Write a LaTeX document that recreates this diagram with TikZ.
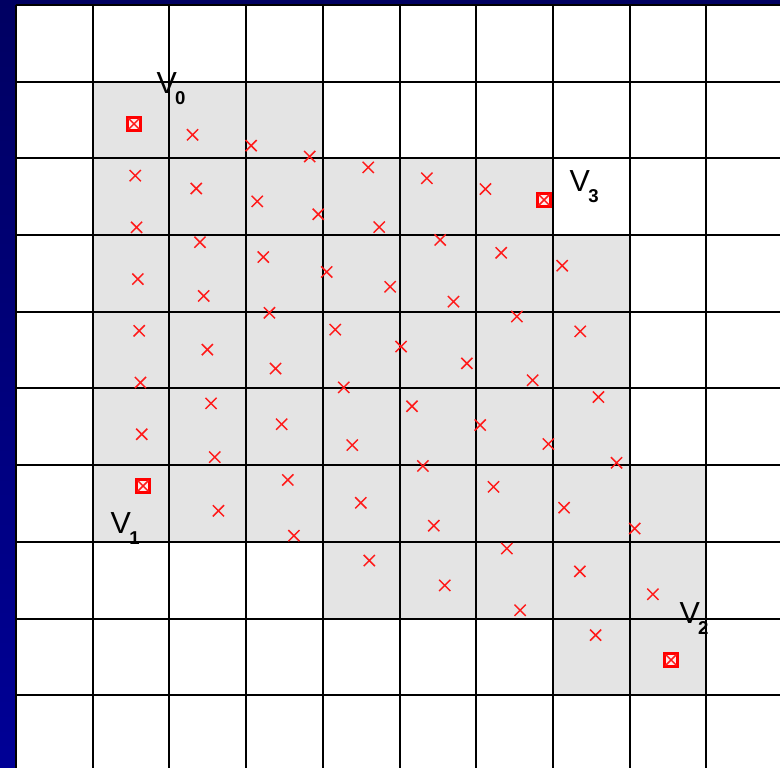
\documentclass[tikz,border=0pt]{standalone}
\usepackage{fontspec}
\setmainfont{Liberation Sans}
\usepackage{tikz}
\usetikzlibrary{calc,shapes.misc}
\definecolor{navy}{HTML}{000062}
\definecolor{navylow}{HTML}{000096}
\definecolor{cellgrey}{HTML}{E4E4E4}
\definecolor{ptred}{HTML}{FF1A1A}
\tikzset{
  gridline/.style={line width=0.75pt, black},
  sample/.style={cross out, draw=ptred, line width=0.55pt, minimum size=3.6pt, inner sep=0pt},
  corner/.style={rectangle, draw=red, fill=red!8, line width=1.1pt, minimum size=4.6pt, inner sep=0pt},
  vlab/.style={anchor=base west, inner sep=0pt, font=\fontsize{11.3}{13}\selectfont},
}
\newcommand{\vname}[1]{V\kern-0.6pt\raisebox{-4pt}{\fontsize{6.9}{8}\selectfont\bfseries #1}}

\begin{document}
\begin{tikzpicture}[x=1cm, y=-1cm]
    \useasboundingbox (-0.209,-0.065) rectangle (9.961,9.948);
    \fill[white] (-0.209,-0.065) rectangle (9.961,9.948);
    % slide frame
    \fill[navy] (-0.209,-0.065) rectangle (9.961,0);
    \shade[top color=navy, bottom color=navylow] (-0.209,-0.065) rectangle (0,9.948);

    % cells touched by the quad
    \fill[cellgrey] (1,1) -| (4,2) -| (7,3) -| (8,6) -| (9,9) -| (7,8) -| (4,7) -| (1,1) -- cycle;
    \draw[gridline] (0,0) grid (9.961,9.948);

    % quad corners
    \coordinate (V0) at (1.538,1.551);
    \coordinate (V1) at (1.656,6.271);
    \coordinate (V2) at (8.540,8.540);
    \coordinate (V3) at (6.884,2.542);
    \foreach \c in {0,...,3} \node[corner] (b\c) at (V\c) {};

    % samples, bilinear in the quad
    \foreach \i in {0,...,7}
      \foreach \j in {0,...,7}
        \node[sample] (p\i\j) at ($ ($(V0)!{\i/7}!(V3)$)!{\j/7}!($(V1)!{\i/7}!(V2)$) $) {};

    % labels
    \node[vlab] (l0) at (1.825,1.160) {\vname{0}};
    \node[vlab] (l1) at (1.226,6.897) {\vname{1}};
    \node[vlab] (l2) at (8.644,8.070) {\vname{2}};
    \node[vlab] (l3) at (7.210,2.438) {\vname{3}};
\end{tikzpicture}
\end{document}
